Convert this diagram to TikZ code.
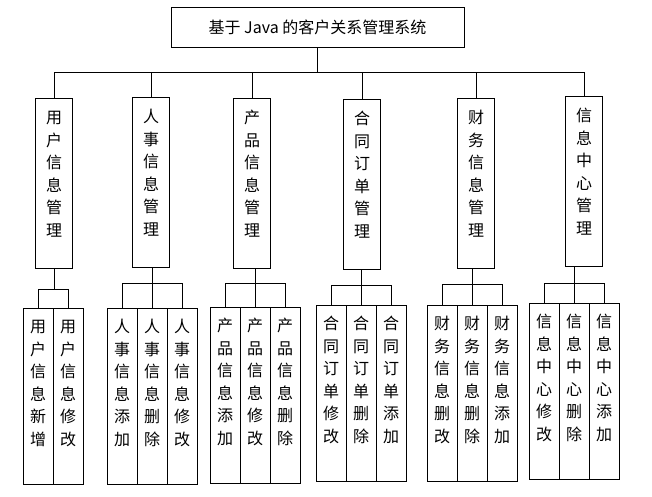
\documentclass[tikz,border=0pt]{standalone}
\usepackage{fontspec}
\setmainfont{Noto Sans CJK SC}
\usetikzlibrary{calc}

\tikzset{
  topbox/.style={draw, line width=1pt, minimum width=293pt, minimum height=40pt, inner sep=0pt, font=\fontsize{16}{20}\selectfont},
  midbox/.style={draw, line width=1pt, anchor=north, text width=37pt, align=center, inner sep=0pt, text height=25pt, text depth=145pt, font=\fontsize{16}{22.5}\selectfont},
  subbox/.style={draw, line width=1pt, anchor=north, text width=30pt, align=center, inner sep=0pt, text height=24pt, text depth=152pt, font=\fontsize{16}{22.5}\selectfont},
  link/.style={line width=1pt}
}

\begin{document}
\begin{tikzpicture}[x=1pt, y=-1pt]
  \useasboundingbox (0,0) rectangle (652,496);

  \node[topbox] (sys) at (317.5, 27) {基于 Java 的客户关系管理系统};

  \node[midbox] (m1) at (54, 98) {用\\户\\信\\息\\管\\理};
  \node[midbox] (m2) at (151, 97) {人\\事\\信\\息\\管\\理};
  \node[midbox] (m3) at (252, 98) {产\\品\\信\\息\\管\\理};
  \node[midbox] (m4) at (362, 99) {合\\同\\订\\单\\管\\理};
  \node[midbox] (m5) at (476, 98) {财\\务\\信\\息\\管\\理};
  \node[midbox] (m6) at (584, 96) {信\\息\\中\\心\\管\\理};

  \coordinate (bus) at (0, 72);
  \draw[link] (sys.south) -- (sys.south |- bus);
  \draw[link] (m1.north) -- (m1.north |- bus) -| (m6.north);
  \draw[link] (m2.north) -- (m2.north |- bus);
  \draw[link] (m3.north) -- (m3.north |- bus);
  \draw[link] (m4.north) -- (m4.north |- bus);
  \draw[link] (m5.north) -- (m5.north |- bus);

  % 用户信息管理
  \node[subbox] (a1) at (38, 308) {用\\户\\信\\息\\新\\增};
  \node[subbox] (a2) at (68, 308) {用\\户\\信\\息\\修\\改};
  \coordinate (bus1) at (0, 289);
  \draw[link] (m1.south) -- (m1.south |- bus1);
  \draw[link] (a1.north) -- (a1.north |- bus1) -| (a2.north);

  % 人事信息管理
  \node[subbox] (b1) at (122, 308) {人\\事\\信\\息\\添\\加};
  \node[subbox] (b2) at (152, 308) {人\\事\\信\\息\\删\\除};
  \node[subbox] (b3) at (182, 308) {人\\事\\信\\息\\修\\改};
  \coordinate (bus2) at (0, 283);
  \draw[link] (b2.north |- m2.south) -- (b2.north);
  \draw[link] (b1.north) -- (b1.north |- bus2) -| (b3.north);

  % 产品信息管理
  \node[subbox] (c1) at (225, 307) {产\\品\\信\\息\\添\\加};
  \node[subbox] (c2) at (255, 307) {产\\品\\信\\息\\修\\改};
  \node[subbox] (c3) at (285, 307) {产\\品\\信\\息\\删\\除};
  \coordinate (bus3) at (0, 283);
  \draw[link] (c2.north |- m3.south) -- (c2.north);
  \draw[link] (c1.north) -- (c1.north |- bus3) -| (c3.north);

  % 合同订单管理
  \node[subbox] (d1) at (331, 305) {合\\同\\订\\单\\修\\改};
  \node[subbox] (d2) at (361, 305) {合\\同\\订\\单\\删\\除};
  \node[subbox] (d3) at (391, 305) {合\\同\\订\\单\\添\\加};
  \coordinate (bus4) at (0, 285);
  \draw[link] (d2.north |- m4.south) -- (d2.north);
  \draw[link] (d1.north) -- (d1.north |- bus4) -| (d3.north);

  % 财务信息管理
  \node[subbox] (e1) at (442, 305) {财\\务\\信\\息\\删\\改};
  \node[subbox] (e2) at (472, 305) {财\\务\\信\\息\\删\\除};
  \node[subbox] (e3) at (502, 305) {财\\务\\信\\息\\添\\加};
  \coordinate (bus5) at (0, 284);
  \draw[link] (e2.north |- m5.south) -- (e2.north);
  \draw[link] (e1.north) -- (e1.north |- bus5) -| (e3.north);

  % 信息中心管理
  \node[subbox] (f1) at (544, 303) {信\\息\\中\\心\\修\\改};
  \node[subbox] (f2) at (574, 303) {信\\息\\中\\心\\删\\除};
  \node[subbox] (f3) at (604, 303) {信\\息\\中\\心\\添\\加};
  \coordinate (bus6) at (0, 283);
  \draw[link] (f2.north |- m6.south) -- (f2.north);
  \draw[link] (f1.north) -- (f1.north |- bus6) -| (f3.north);
\end{tikzpicture}
\end{document}
